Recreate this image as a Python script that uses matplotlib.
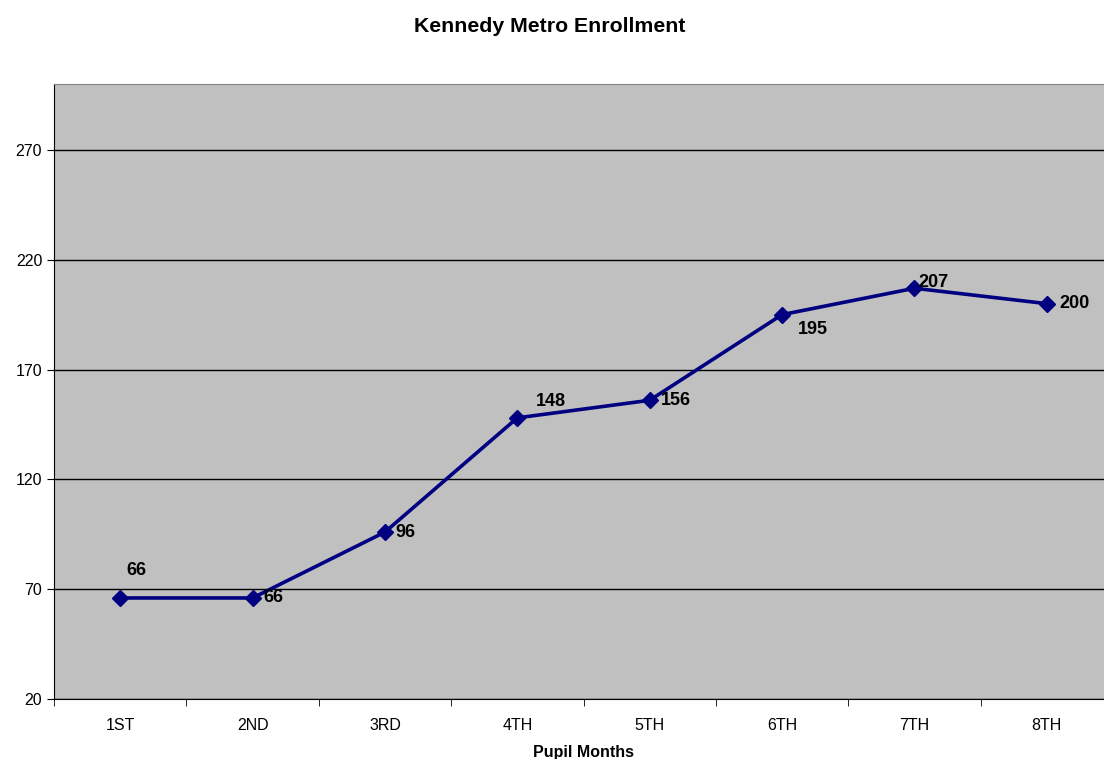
import matplotlib as mpl
import matplotlib.pyplot as plt
import numpy as np

mpl.rcParams['font.family'] = ['Liberation Sans', 'DejaVu Sans']

months = ['1ST', '2ND', '3RD', '4TH', '5TH', '6TH', '7TH', '8TH']
enrollment = [66, 66, 96, 148, 156, 195, 207, 200]
# label offsets in points, (dx, dy)
label_offsets = [(12, 20), (15, 0), (15, 0), (24, 12), (19, 0), (22, -11), (14, 4), (20, 0)]

W, H = 1104, 759
fig = plt.figure(figsize=(W / 100, H / 100), dpi=100)
left, right, top, bottom = 54, 1113, 84, 699
ax = fig.add_axes([left / W, 1 - bottom / H, (right - left) / W, (bottom - top) / H])
ax.set_facecolor('#C0C0C0')

x = np.arange(len(months))
ax.plot(x, enrollment, color='#000080', lw=2.6, marker='D', ms=8, zorder=3)

for xi, v, (dx, dy) in zip(x, enrollment, label_offsets):
    ax.annotate(str(v), (xi, v), xytext=(dx, dy), textcoords='offset points',
                ha='center', va='center', fontsize=13, fontweight='bold', zorder=4)

ax.set_xlim(-0.5, len(months) - 0.5)
ax.set_ylim(20, 300)
ax.set_yticks([20, 70, 120, 170, 220, 270])
ax.yaxis.grid(True, color='black', lw=1)
ax.set_axisbelow(True)

ax.set_xticks(x)
ax.set_xticklabels(months, fontsize=11.5)
ax.set_xticks(np.arange(len(months) + 1) - 0.5, minor=True)
ax.tick_params(axis='x', which='major', length=0, pad=14)
ax.tick_params(axis='x', which='minor', length=5, direction='out')
ax.tick_params(axis='y', length=5, direction='out', labelsize=11.5)

for s in ['left', 'bottom']:
    ax.spines[s].set_color('black')
ax.spines['top'].set_color('#808080')
ax.spines['right'].set_color('#808080')

ax.set_xlabel('Pupil Months', fontsize=11.5, fontweight='bold', labelpad=8)
fig.text(550 / W, 1 - 26 / H, 'Kennedy Metro Enrollment', ha='center', va='center',
         fontsize=15.3, fontweight='bold')

fig.savefig('out.png', dpi=100)
